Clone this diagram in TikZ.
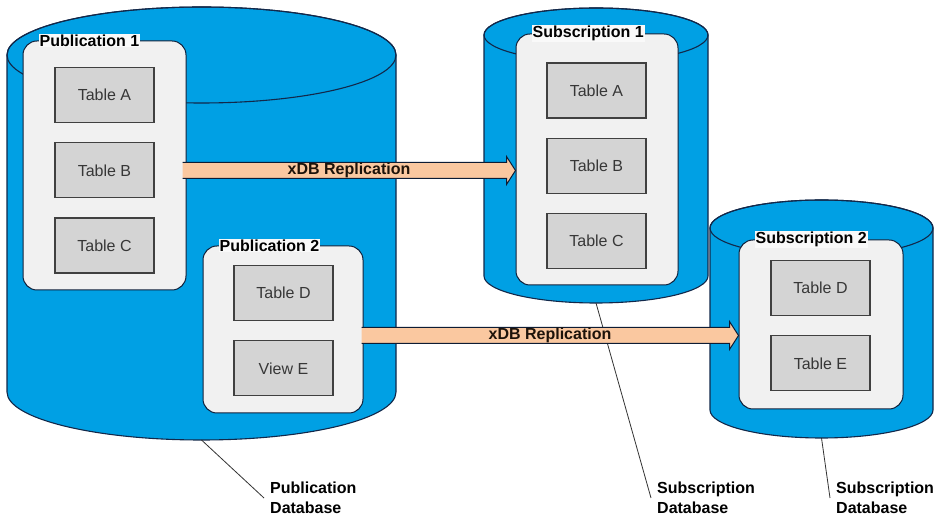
\documentclass[tikz,border=0pt]{standalone}
\usepackage{fontspec}
\setmainfont{Liberation Sans}
\usepackage{tikz}
\usetikzlibrary{positioning,calc}
\definecolor{dbblue}{RGB}{0,160,228}
\definecolor{rimnavy}{RGB}{18,40,74}
\definecolor{pubgray}{RGB}{241,241,241}
\definecolor{tablegray}{RGB}{212,212,212}
\definecolor{replpeach}{RGB}{250,200,160}
\definecolor{inkgray}{RGB}{55,55,55}
\tikzset{
  % 数据库圆柱
  cyl/.style={fill=dbblue, draw=rimnavy, line width=1.1pt},
  % 发布/订阅盒子
  pubbox/.style={
    draw=rimnavy!80!black,
    line width=1pt,
    fill=pubgray,
    rounded corners=14pt
  },
  % 盒子标题
  boxtitle/.style={
    fill=white!60!pubgray,
    inner sep=1pt,
    font=\fontsize{16}{19}\selectfont\bfseries
  },
  % 表格样式
  tablebox/.style={
    draw=black!75,
    line width=1.3pt,
    fill=tablegray,
    minimum width=99pt,
    minimum height=55pt,
    text=inkgray,
    font=\fontsize{16}{19}\selectfont
  },
  % 复制箭头
  repl/.style={fill=replpeach, draw=rimnavy!70!black, line width=1pt, line join=miter},
  repllabel/.style={font=\fontsize{16}{19}\selectfont\bfseries, text=black!85!brown},
  % 说明文字与引线
  dblabel/.style={
    align=left,
    inner xsep=6pt,
    font=\fontsize{16}{20}\selectfont\bfseries
  },
  callout/.style={draw=black!80, line width=0.8pt},
}

\begin{document}
\begin{tikzpicture}[x=1pt, y=1pt]
    \fill[white] (0,0) rectangle (940,519);
    \useasboundingbox (0,0) rectangle (940,519);

    % Publication database
    \filldraw[cyl] (7,464) -- (7,127) arc[start angle=180, end angle=360, x radius=194.5, y radius=48]
        -- (396,464) arc[start angle=0, end angle=180, x radius=194.5, y radius=48] -- cycle;
    \draw[cyl, fill=none] (201.5,464) ellipse[x radius=194.5, y radius=48];
    \coordinate (pubdb) at (201.5,79);

    % Subscription database 1
    \filldraw[cyl] (484,484) -- (484,243) arc[start angle=180, end angle=360, x radius=112, y radius=27]
        -- (708,484) arc[start angle=0, end angle=180, x radius=112, y radius=27] -- cycle;
    \draw[cyl, fill=none] (596,484) ellipse[x radius=112, y radius=27];
    \coordinate (subdb1) at (596,216);

    % Subscription database 2
    \filldraw[cyl] (710,291) -- (710,109) arc[start angle=180, end angle=360, x radius=111.5, y radius=28]
        -- (933,291) arc[start angle=0, end angle=180, x radius=111.5, y radius=28] -- cycle;
    \draw[cyl, fill=none] (821.5,291) ellipse[x radius=111.5, y radius=28];
    \coordinate (subdb2) at (821.5,81);

    % Publication 1
    \node[pubbox, minimum width=163pt, minimum height=249pt] (pub1) at (104.5,353.5) {};
    \node[boxtitle, anchor=west] (pub1t) at ([xshift=16pt]pub1.north west) {Publication 1};
    \node[tablebox] (pub1a) at (104.5,424) {Table A};
    \node[tablebox, below=19pt of pub1a] (pub1b) {Table B};
    \node[tablebox, below=19pt of pub1b] (pub1c) {Table C};

    % Publication 2
    \node[pubbox, minimum width=160pt, minimum height=167pt] (pub2) at (283,189.5) {};
    \node[boxtitle, anchor=west] (pub2t) at ([xshift=16pt]pub2.north west) {Publication 2};
    \node[tablebox] (pub2d) at (283.5,226) {Table D};
    \node[tablebox, below=19pt of pub2d] (pub2e) {View E};

    % Subscription 1
    \node[pubbox, minimum width=162pt, minimum height=251pt] (sub1) at (597,359.5) {};
    \node[boxtitle, anchor=west] (sub1t) at ([xshift=16pt]sub1.north west) {Subscription 1};
    \node[tablebox] (sub1a) at (596.5,428.5) {Table A};
    \node[tablebox, below=19pt of sub1a] (sub1b) {Table B};
    \node[tablebox, below=19pt of sub1b] (sub1c) {Table C};

    % Subscription 2
    \node[pubbox, minimum width=164pt, minimum height=169pt] (sub2) at (821,194.5) {};
    \node[boxtitle, anchor=west] (sub2t) at ([xshift=16pt]sub2.north west) {Subscription 2};
    \node[tablebox] (sub2d) at (820.5,231) {Table D};
    \node[tablebox, below=19pt of sub2d] (sub2e) {Table E};

    % Callouts
    \node[dblabel, anchor=west] (publab) at (264,21) {Publication\\Database};
    \node[dblabel, anchor=west] (sublab1) at (651,21) {Subscription\\Database};
    \node[dblabel, anchor=west] (sublab2) at (830,21) {Subscription\\Database};
    \draw[callout] (pubdb) -- (publab.west);
    \draw[callout] (subdb1) -- (sublab1.west);
    \draw[callout] (subdb2) -- (sublab2.west);

    % Replication 1
    \coordinate (r1s) at ([shift={(-4,-5)}]pub1.east);
    \coordinate (r1e) at (r1s -| sub1.west);
    \filldraw[repl] ($(r1s)+(0,8)$) -- ($(r1e)+(-9,8)$) -- ($(r1e)+(-9,14)$) -- (r1e)
        -- ($(r1e)+(-9,-14)$) -- ($(r1e)+(-9,-8)$) -- ($(r1s)+(0,-8)$);
    \node[repllabel] (r1t) at ($(r1s)!0.5!(r1e)$) {xDB Replication};

    % Replication 2
    \coordinate (r2s) at ([shift={(-2,-6)}]pub2.east);
    \coordinate (r2e) at (r2s -| sub2.west);
    \filldraw[repl] ($(r2s)+(0,8)$) -- ($(r2e)+(-9,8)$) -- ($(r2e)+(-9,14)$) -- (r2e)
        -- ($(r2e)+(-9,-14)$) -- ($(r2e)+(-9,-8)$) -- ($(r2s)+(0,-8)$);
    \node[repllabel] (r2t) at ($(r2s)!0.5!(r2e)$) {xDB Replication};
\end{tikzpicture}
\end{document}
